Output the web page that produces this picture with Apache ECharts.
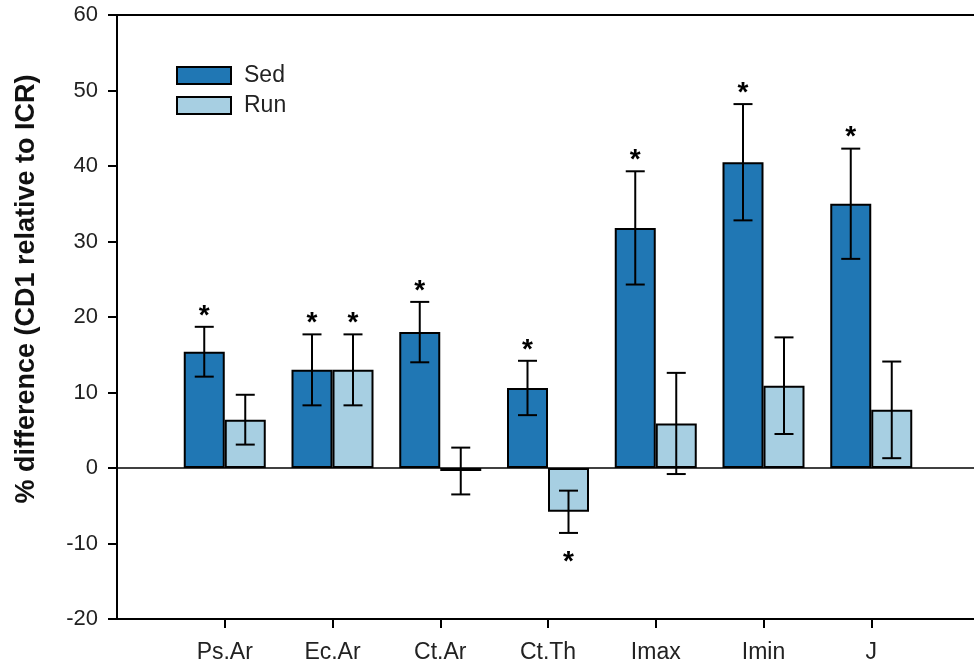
<!DOCTYPE html>
<html>
<head>
<meta charset="utf-8">
<script src="https://cdn.jsdelivr.net/npm/echarts@6/dist/echarts.min.js"></script>
<style>html,body{margin:0;padding:0;background:#fff}#c{width:974px;height:668px}</style>
</head>
<body>
<div id="c"></div>
<script>
const categories = ['Ps.Ar', 'Ec.Ar', 'Ct.Ar', 'Ct.Th', 'Imax', 'Imin', 'J'];
const sedValues = [15.4, 13.0, 18.0, 10.6, 31.8, 40.5, 35.0];
const sedErrors = [3.3, 4.7, 4.0, 3.6, 7.5, 7.7, 7.3];
const runValues = [6.4, 13.0, -0.4, -5.8, 5.9, 10.9, 7.7];
const runErrors = [3.3, 4.7, 3.1, 2.8, 6.7, 6.4, 6.4];
// 1 = star above, -1 = star below, 0 = none
const sedSignificance = [1, 1, 1, 1, 1, 1, 1];
const runSignificance = [0, 1, 0, -1, 0, 0, 0];
const yTicks = [-20, -10, 0, 10, 20, 30, 40, 50, 60];

const axisCats = [''].concat(categories, ['']);
const padData = arr => [null].concat(arr, [null]);
const errData = (vals, errs, sig) => vals.map((v, i) => [i + 1, v - errs[i], v + errs[i], sig[i]]);

const FONT = '"Liberation Sans", Arial, sans-serif';
const BAR_W = 41;

function makeErrRender(offset) {
  return function (params, api) {
    const x = api.value(0), lo = api.value(1), hi = api.value(2), sig = api.value(3);
    const pLo = api.coord([x, lo]);
    const pHi = api.coord([x, hi]);
    const cx = pLo[0] + offset;
    const cap = 9.5;
    const style = { stroke: '#000', lineWidth: 2 };
    const children = [
      { type: 'line', shape: { x1: cx, y1: pLo[1], x2: cx, y2: pHi[1] }, style },
      { type: 'line', shape: { x1: cx - cap, y1: pLo[1], x2: cx + cap, y2: pLo[1] }, style },
      { type: 'line', shape: { x1: cx - cap, y1: pHi[1], x2: cx + cap, y2: pHi[1] }, style }
    ];
    if (sig !== 0) {
      const y = sig > 0 ? pHi[1] - 11 : pLo[1] + 29;
      children.push({
        type: 'text',
        style: { text: '*', x: cx, y: y, align: 'center', verticalAlign: 'middle',
                 font: 'bold 28px ' + FONT, fill: '#000' }
      });
    }
    return { type: 'group', children };
  };
}

const chart = echarts.init(document.getElementById('c'), null, { renderer: 'canvas' });
chart.setOption({
  animation: false,
  backgroundColor: '#fff',
  grid: { left: 117, width: 862, top: 15, height: 604, containLabel: false, outerBoundsMode: 'none' },
  legend: {
    orient: 'vertical', left: 176, top: 64, padding: 0,
    itemWidth: 54, itemHeight: 17, itemGap: 7, icon: 'rect',
    data: ['Sed', 'Run'],
    textStyle: { fontFamily: FONT, fontSize: 23, color: '#222', padding: [0, 0, 0, 8] }
  },
  graphic: [{
    type: 'text', x: 27, y: 289, rotation: Math.PI / 2,
    style: { text: '% difference (CD1 relative to ICR)', align: 'center', verticalAlign: 'middle',
             font: 'bold 27px ' + FONT, fill: '#111' }
  }],
  xAxis: [{
    type: 'category', data: axisCats, boundaryGap: false,
    axisLine: { onZero: false, lineStyle: { color: '#000', width: 2 } },
    axisTick: { show: true, length: 9, lineStyle: { color: '#000', width: 2 },
                interval: (i) => i > 0 && i < axisCats.length - 1 },
    axisLabel: { fontFamily: FONT, fontSize: 23, color: '#222', margin: 22,
                 interval: 0 },
    splitLine: { show: false }
  }, {
    type: 'category', data: axisCats, boundaryGap: false, position: 'top',
    axisLine: { onZero: false, lineStyle: { color: '#000', width: 2 } },
    axisTick: { show: false }, axisLabel: { show: false }, splitLine: { show: false }
  }],
  yAxis: {
    type: 'value', min: yTicks[0], max: yTicks[yTicks.length - 1], interval: 10,
    axisLine: { show: true, lineStyle: { color: '#000', width: 2 } },
    axisTick: { show: true, inside: false, length: 9, lineStyle: { color: '#000', width: 2 } },
    axisLabel: { fontFamily: FONT, fontSize: 22, color: '#222', margin: 19 },
    splitLine: { show: false }
  },
  series: [{
    name: 'Sed', type: 'bar', data: padData(sedValues), barWidth: BAR_W, barGap: '0%',
    itemStyle: { color: '#2077b4', borderColor: '#000', borderWidth: 2 },
    markLine: { silent: true, symbol: 'none', label: { show: false },
                lineStyle: { color: '#000', width: 1.5, type: 'solid' },
                data: [{ yAxis: 0 }] }
  }, {
    name: 'Run', type: 'bar', data: padData(runValues), barWidth: BAR_W, barGap: '0%',
    itemStyle: { color: '#a7cfe2', borderColor: '#000', borderWidth: 2 }
  }, {
    type: 'custom', renderItem: makeErrRender(-BAR_W / 2), z: 10,
    data: errData(sedValues, sedErrors, sedSignificance), encode: { x: 0, y: [1, 2] }
  }, {
    type: 'custom', renderItem: makeErrRender(BAR_W / 2), z: 10,
    data: errData(runValues, runErrors, runSignificance), encode: { x: 0, y: [1, 2] }
  }]
});
</script>
</body>
</html>
